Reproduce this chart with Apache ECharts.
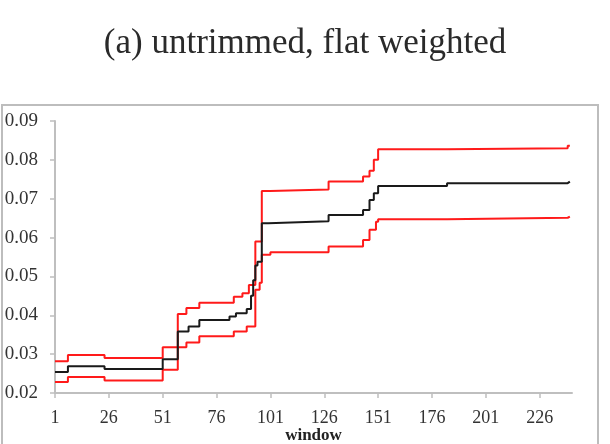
<!DOCTYPE html>
<html>
<head>
<meta charset="utf-8">
<script src="https://cdn.jsdelivr.net/npm/echarts@6/dist/echarts.min.js"></script>
<style>html,body{margin:0;padding:0;background:#fff}#c{width:610px;height:444px}</style>
</head>
<body>
<div id="c"></div>
<script>
// window categories 1..241, labels every 25
var firstWindow = 1;
var lastWindow = 241;
var yTicks = [0.02, 0.03, 0.04, 0.05, 0.06, 0.07, 0.08, 0.09];

// change points [window, value]; value holds until next change point
var upperBand = [[1,0.0282],[7,0.0298],[24,0.0290],[51,0.0318],[58,0.0403],[62,0.0419],[68,0.0432],[84,0.0448],[88,0.0457],[91,0.0478],[94,0.0590],[97,0.0720],[101,0.0724],[128,0.0744],[144,0.0757],[147,0.0772],[149,0.0800],[151,0.0827],[183,0.0830],[239,0.0836],[240,0.0836]];
var estimate = [[1,0.0254],[7,0.0269],[24,0.0262],[51,0.0287],[58,0.0358],[63,0.0371],[68,0.0388],[82,0.0397],[85,0.0405],[90,0.0416],[92,0.0450],[93,0.0490],[94,0.0528],[95,0.0538],[97,0.0637],[100,0.0642],[128,0.0658],[144,0.0671],[147,0.0697],[149,0.0714],[151,0.0733],[183,0.0740],[239,0.0744],[240,0.0744]];
var lowerBand = [[1,0.0228],[7,0.0241],[24,0.0232],[51,0.0260],[58,0.0318],[62,0.0330],[68,0.0346],[84,0.0358],[90,0.0371],[94,0.0466],[96,0.0484],[97,0.0556],[101,0.0562],[128,0.0577],[144,0.0594],[147,0.0620],[150,0.0641],[151,0.0647],[183,0.0651],[239,0.0654],[240,0.0654]];

var categories = [];
for (var w = firstWindow; w <= lastWindow; w++) categories.push(String(w));
function toData(arr){ return arr.map(function(p){ return [String(p[0]), p[1]]; }); }

var chart = echarts.init(document.getElementById('c'), null, {renderer:'canvas'});
var serif = 'Liberation Serif';
chart.setOption({
  animation: false,
  backgroundColor: '#fff',
  title: {
    text: '(a) untrimmed, flat weighted',
    left: 'center', top: 21,
    textStyle: {fontFamily: serif, fontSize: 35, fontWeight: 'normal', color: '#2a2a2a'}
  },
  graphic: [{
    type: 'rect', shape: {x: 2, y: 105, width: 596, height: 360},
    style: {fill: 'none', stroke: '#bdbdbd', lineWidth: 2}, silent: true, z: -1
  }],
  grid: {left: 55, right: 38, top: 121, bottom: 51, outerBoundsMode: 'none', containLabel: false},
  xAxis: {
    type: 'category', data: categories, boundaryGap: false,
    name: 'window', nameLocation: 'middle', nameGap: 34, nameMoveOverlap: false,
    nameTextStyle: {fontFamily: serif, fontSize: 17, fontWeight: 'bold', color: '#222'},
    axisLine: {lineStyle: {color: '#bfbfbf', width: 2}},
    axisTick: {interval: 24, length: 5, lineStyle: {color: '#bfbfbf', width: 1.5}},
    axisLabel: {interval: 24, margin: 16, fontFamily: serif, fontSize: 18, color: '#333'},
    splitLine: {show: false}
  },
  yAxis: {
    type: 'value', min: 0.02, max: 0.09, interval: 0.01,
    axisLine: {show: true, lineStyle: {color: '#bfbfbf', width: 2}},
    axisTick: {show: true, length: 5, lineStyle: {color: '#bfbfbf', width: 1.5}},
    axisLabel: {margin: 17, fontFamily: serif, fontSize: 19, color: '#333',
      formatter: function(v){ return v.toFixed(2); }},
    splitLine: {show: false}
  },
  series: [
    {name: 'upper', type: 'line', step: 'end', data: toData(upperBand), showSymbol: false,
     lineStyle: {color: '#ff1a1a', width: 2}},
    {name: 'lower', type: 'line', step: 'end', data: toData(lowerBand), showSymbol: false,
     lineStyle: {color: '#ff1a1a', width: 2}},
    {name: 'estimate', type: 'line', step: 'end', data: toData(estimate), showSymbol: false,
     lineStyle: {color: '#1a1a1a', width: 2}}
  ]
});
</script>
</body>
</html>
